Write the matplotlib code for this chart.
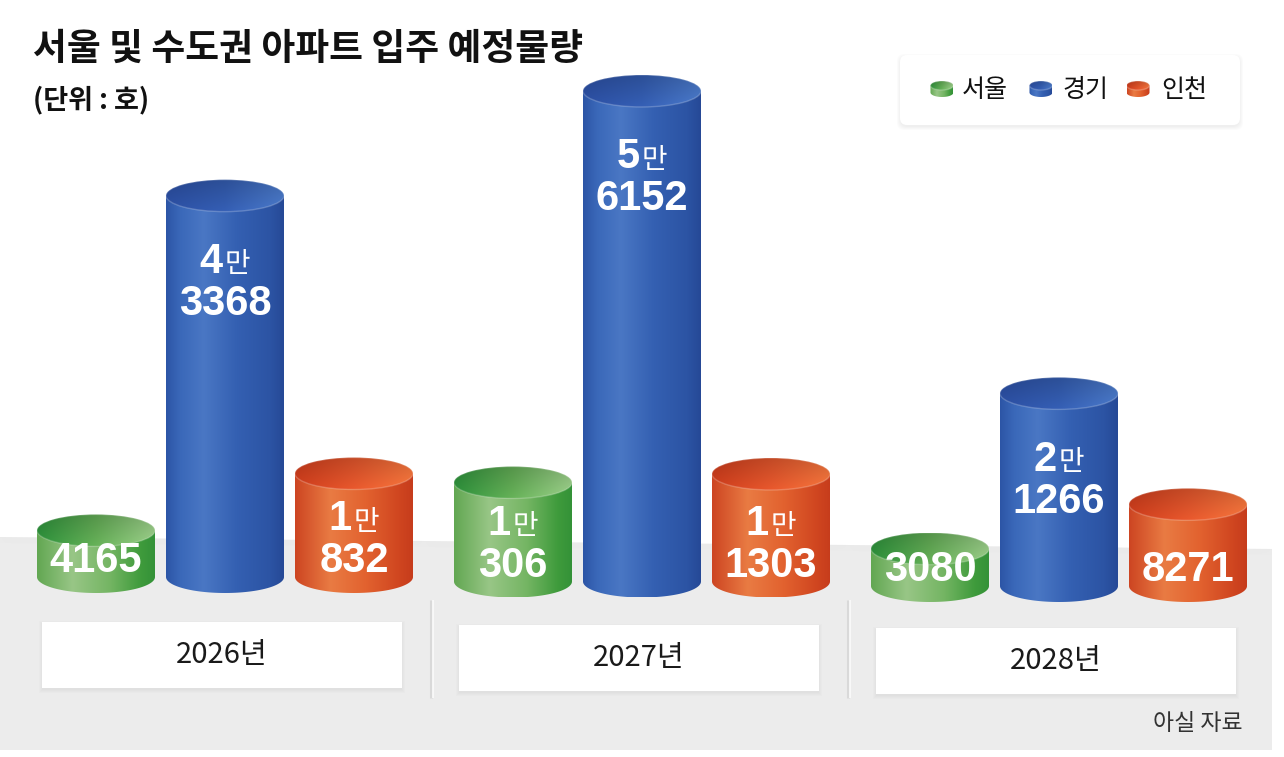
import numpy as np
import matplotlib
matplotlib.use("Agg")
import matplotlib.pyplot as plt
from matplotlib.patches import Ellipse, PathPatch, Rectangle, FancyBboxPatch, Polygon
from matplotlib.path import Path
from matplotlib.colors import to_rgb
import matplotlib.transforms as mtransforms

plt.rcParams['font.family'] = ['Noto Sans CJK KR', 'DejaVu Sans']

# ---------------- data ----------------
years = ['2026년', '2027년', '2028년']
series = ['서울', '경기', '인천']
seoul = [4165, 10306, 3080]
gyeonggi = [43368, 56152, 21266]
incheon = [10832, 11303, 8271]
title = '서울 및 수도권 아파트 입주 예정물량'
unit_label = '(단위 : 호)'
source = '아실 자료'

# ---------------- styles ----------------
BODY = {
    '서울': [(0, '#62a752'), (0.3, '#98c686'), (0.62, '#74b563'), (0.88, '#3f9b3c'), (1, '#349238')],
    '경기': [(0, '#2c55a6'), (0.12, '#3a68b9'), (0.32, '#4a77c4'), (0.6, '#3460b2'), (0.88, '#2c54a4'), (1, '#264996')],
    '인천': [(0, '#cd4522'), (0.3, '#e97b43'), (0.6, '#e2622f'), (0.88, '#d04620'), (1, '#c63c1c')],
}
TOP = {
    '서울': [(0, '#2b8a38'), (0.5, '#5fa552'), (1, '#93c482')],
    '경기': [(0, '#2a4c9c'), (0.5, '#3158a8'), (1, '#4673bf')],
    '인천': [(0, '#c33a1b'), (0.5, '#d8522a'), (1, '#e86f39')],
}
NUM_FONT = ['Liberation Sans', 'DejaVu Sans']

W, H = 1284, 757
PX_PER_GROUP = 417.0
FIRST_GROUP_PX = 225.0
SERIES_STEP_PX = 129.0
PX_PER_UNIT = 0.00854
ZERO_PX = 566.0          # pixel row (from top) of value 0 in first group
FLOOR_SLOPE_PX = 4.5     # perspective drop per group
HALF_W_PX = 59.0
RY_PX = 16.0
BASE_DROP_PX = 11.0

fig = plt.figure(figsize=(W / 100, H / 100), dpi=100)
fig.patch.set_facecolor('white')

deco = fig.add_axes([0, 0, 1, 1], zorder=0)
deco.set_xlim(0, W)
deco.set_ylim(H, 0)
deco.axis('off')

ax = fig.add_axes([0, 0, 1, 1], zorder=2)
ax.patch.set_alpha(0)
ax.axis('off')
ax.set_autoscale_on(False)
XLIM = (-FIRST_GROUP_PX / PX_PER_GROUP, (W - FIRST_GROUP_PX) / PX_PER_GROUP)
YLIM = (-(H - ZERO_PX) / PX_PER_UNIT, ZERO_PX / PX_PER_UNIT)
ax.set_xlim(*XLIM)
ax.set_ylim(*YLIM)


def hgrad(stops, n=256):
    pos = [p for p, _ in stops]
    cols = np.array([to_rgb(c) for _, c in stops])
    xs = np.linspace(0, 1, n)
    return np.stack([np.interp(xs, pos, cols[:, k]) for k in range(3)], axis=-1)


def cylinder(ax, xc, y_bot, y_top, hw, ry, body_stops, top_stops, trans, z):
    x0, x1 = xc - hw, xc + hw
    th = np.linspace(np.pi, 2 * np.pi, 80)
    bx = xc + hw * np.cos(th)
    by = y_bot + ry * np.sin(th)
    verts = [(x0, y_top)] + list(zip(bx, by)) + [(x1, y_top), (x0, y_top)]
    codes = [Path.MOVETO] + [Path.LINETO] * (len(verts) - 2) + [Path.CLOSEPOLY]
    body = PathPatch(Path(verts, codes), facecolor='none', edgecolor='none', transform=trans)
    ax.add_patch(body)
    g = hgrad(body_stops)[None, :, :]
    im = ax.imshow(g, extent=[x0, x1, y_bot - ry, y_top], aspect='auto',
                   interpolation='bilinear', zorder=z)
    im.set_transform(trans)
    im.set_clip_path(body)
    # top (inner) ellipse
    top = Ellipse((xc, y_top), 2 * hw, 2 * ry, facecolor='none', edgecolor='none', transform=trans)
    ax.add_patch(top)
    tg = hgrad(top_stops)
    rows = np.linspace(0.9, 1.08, 40)[:, None, None]
    tarr = np.clip(tg[None, :, :] * rows, 0, 1)
    tim = ax.imshow(tarr, extent=[x0, x1, y_top - ry, y_top + ry], aspect='auto',
                    interpolation='bilinear', zorder=z + 0.1, origin='upper')
    tim.set_transform(trans)
    tim.set_clip_path(top)
    rim = Ellipse((xc, y_top), 2 * hw, 2 * ry, facecolor='none', edgecolor='white',
                  alpha=0.22, lw=1.0, transform=trans, zorder=z + 0.2)
    ax.add_patch(rim)


# ---------------- floor / background ----------------
deco.add_patch(Polygon([(0, 537), (1272, 549), (1272, 750), (0, 750)], closed=True,
                       facecolor='#ececec', edgecolor='none', zorder=0))
for k in range(6):
    deco.add_patch(Polygon([(0, 537 + k), (1272, 549 + k), (1272, 550 + k), (0, 538 + k)],
                           closed=True, facecolor='#e2e2e2', alpha=0.12 * (6 - k) / 6,
                           edgecolor='none', zorder=0.5))

# dividers
for dx in (431, 848):
    deco.plot([dx, dx], [600, 698], color='#d9d9d9', lw=2.2, zorder=1, solid_capstyle='butt')
    deco.plot([dx + 1.5, dx + 1.5], [600, 698], color='#fbfbfb', lw=1.2, zorder=1.1, solid_capstyle='butt')

# category boxes
for g, yr in enumerate(years):
    cx = FIRST_GROUP_PX + g * PX_PER_GROUP - 3
    cy = 655 + 3 * g
    for k in range(4):
        deco.add_patch(Rectangle((cx - 180 - k, cy - 33 - k + 2), 360 + 2 * k, 66 + 2 * k,
                                 facecolor='#cfcfcf', alpha=0.10, edgecolor='none', zorder=1.5))
    deco.add_patch(Rectangle((cx - 180, cy - 33), 360, 66, facecolor='white',
                             edgecolor='none', zorder=2))
    deco.text(cx, cy, yr, fontsize=21, color='#1a1a1a', ha='center', va='center', zorder=3)

# ---------------- cylinders ----------------
vals = [seoul, gyeonggi, incheon]
hw = HALF_W_PX / PX_PER_GROUP
ry = RY_PX / PX_PER_UNIT
base = -BASE_DROP_PX / PX_PER_UNIT
LINE_GAP_PX = 42
for g in range(len(years)):
    trans = ax.transData + mtransforms.ScaledTranslation(0, -FLOOR_SLOPE_PX * g / 100, fig.dpi_scale_trans)
    for s, name in enumerate(series):
        v = vals[s][g]
        xc = g + (s - 1) * SERIES_STEP_PX / PX_PER_GROUP
        cylinder(ax, xc, base, v, hw, ry, BODY[name], TOP[name], trans, z=3)
        # label placement: last line near bottom for short bars, fixed below top for tall ones
        h_px = PX_PER_UNIT * v + BASE_DROP_PX
        last_below_top = min(h_px - 20, 104)
        y_last = v - last_below_top / PX_PER_UNIT
        man, rest = divmod(v, 10000)
        t_n = trans + mtransforms.ScaledTranslation(0, -11 / 72, fig.dpi_scale_trans)
        ax.text(xc, y_last, str(rest), transform=t_n, fontsize=30, weight='bold', color='white',
                family=NUM_FONT, ha='center', va='baseline', zorder=8)
        if man > 0:
            y1 = y_last + LINE_GAP_PX / PX_PER_UNIT
            t_d = trans + mtransforms.ScaledTranslation(-1.5 / 72, -11 / 72, fig.dpi_scale_trans)
            t_m = trans + mtransforms.ScaledTranslation(-0.5 / 72, -10.5 / 72, fig.dpi_scale_trans)
            ax.text(xc, y1, str(man), transform=t_d, fontsize=30, weight='bold', color='white',
                    family=NUM_FONT, ha='right', va='baseline', zorder=8)
            ax.text(xc, y1, '만', transform=t_m, fontsize=20, color='white',
                    ha='left', va='baseline', zorder=8)

# ---------------- titles ----------------
deco.text(33, 49, title, fontsize=26.5, weight='bold', color='#111111', ha='left', va='center', zorder=5)
deco.text(33, 100, unit_label, fontsize=19.5, weight='bold', color='#111111', ha='left', va='center', zorder=5)
deco.text(1243, 724, source, fontsize=16.5, color='#333333', ha='right', va='center', zorder=5)

# ---------------- legend ----------------
for k in range(4):
    deco.add_patch(FancyBboxPatch((900 - k, 55 - k + 2), 340 + 2 * k, 70 + 2 * k,
                                  boxstyle='round,pad=0,rounding_size=8', facecolor='#cccccc',
                                  alpha=0.08, edgecolor='none', zorder=4))
deco.add_patch(FancyBboxPatch((900, 55), 340, 70, boxstyle='round,pad=0,rounding_size=7',
                              facecolor='white', edgecolor='none', zorder=4.5))
icon_px = [942, 1041, 1138]
text_px = [962, 1062, 1161]
leg_y = 89
for name, ipx, tpx in zip(series, icon_px, text_px):
    xc = (ipx - FIRST_GROUP_PX) / PX_PER_GROUP
    yb = (ZERO_PX - (leg_y + 3.5)) / PX_PER_UNIT
    yt = (ZERO_PX - (leg_y - 3.5)) / PX_PER_UNIT
    cylinder(ax, xc, yb, yt, 11.5 / PX_PER_GROUP, 4.5 / PX_PER_UNIT, BODY[name], TOP[name], ax.transData, z=6)
    deco.text(tpx, leg_y + 1, name, fontsize=18, color='#111111', ha='left', va='center', zorder=5)

ax.set_xlim(*XLIM)
ax.set_ylim(*YLIM)
fig.savefig('out.png', dpi=100, facecolor='white')
